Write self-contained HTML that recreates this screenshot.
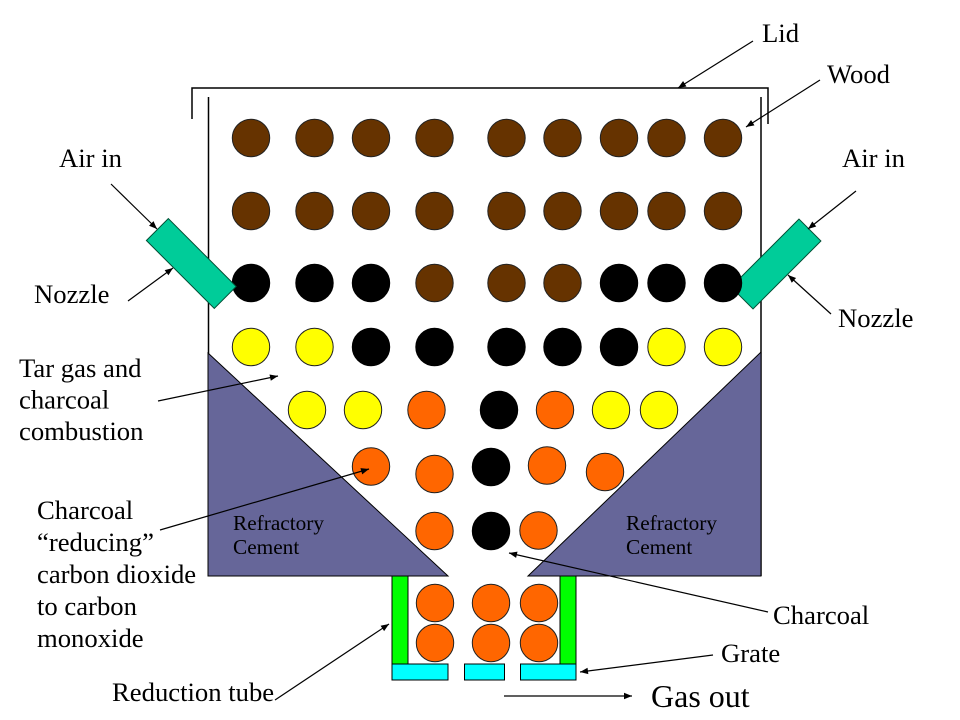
<!DOCTYPE html>
<html><head><meta charset="utf-8">
<style>
html,body{margin:0;padding:0;background:#fff;}
svg{display:block;}
text{font-family:"Liberation Serif","Times New Roman",serif;fill:#000;}
.l{font-size:26.67px;}
.r{font-size:21.3px;}
</style></head>
<body>
<svg width="960" height="720" viewBox="0 0 960 720" xmlns="http://www.w3.org/2000/svg">
<defs>
<marker id="a" viewBox="0 0 10 10" refX="10" refY="5" markerWidth="10" markerHeight="8" markerUnits="userSpaceOnUse" orient="auto">
<path d="M0,1 L10,5 L0,9 Z" fill="#000"/>
</marker>
</defs>
<rect width="960" height="720" fill="#fff"/>

<!-- lid -->
<polyline points="192,119 192,88 768,88 768,124" fill="none" stroke="#000" stroke-width="1.5"/>
<!-- walls -->
<line x1="208.5" y1="97" x2="208.5" y2="576" stroke="#000" stroke-width="1.5"/>
<line x1="761" y1="97" x2="761" y2="576" stroke="#000" stroke-width="1.5"/>

<!-- refractory -->
<polygon points="208,353 448,576 208,576" fill="#666699" stroke="#000" stroke-width="1"/>
<polygon points="761,352 761,576 528,576" fill="#666699" stroke="#000" stroke-width="1"/>
<text class="r" x="233" y="530">Refractory</text>
<text class="r" x="233" y="554">Cement</text>
<text class="r" x="626" y="530">Refractory</text>
<text class="r" x="626" y="554">Cement</text>

<!-- right nozzle (behind circles) -->
<rect x="-48" y="-15.5" width="96" height="31" fill="#00CC99" stroke="#004d33" stroke-width="1" transform="translate(776,264) rotate(-45)"/>

<g stroke="#222" stroke-width="1">
<!-- row 1 -->
<g fill="#663300">
<circle cx="251" cy="138" r="18.7"/><circle cx="314.5" cy="138" r="18.7"/><circle cx="371" cy="138" r="18.7"/><circle cx="434.5" cy="138" r="18.7"/><circle cx="506.5" cy="138" r="18.7"/><circle cx="562.5" cy="138" r="18.7"/><circle cx="619" cy="138" r="18.7"/><circle cx="666.5" cy="138" r="18.7"/><circle cx="723" cy="138" r="18.7"/>
<!-- row 2 -->
<circle cx="251" cy="211" r="18.7"/><circle cx="314.5" cy="211" r="18.7"/><circle cx="371" cy="211" r="18.7"/><circle cx="434.5" cy="211" r="18.7"/><circle cx="506.5" cy="211" r="18.7"/><circle cx="562.5" cy="211" r="18.7"/><circle cx="619" cy="211" r="18.7"/><circle cx="666.5" cy="211" r="18.7"/><circle cx="723" cy="211" r="18.7"/>
<!-- row 3 browns -->
<circle cx="434.5" cy="283" r="18.7"/><circle cx="506.5" cy="283" r="18.7"/><circle cx="562.5" cy="283" r="18.7"/>
</g>
<g fill="#000" stroke="#000">
<circle cx="251" cy="283" r="18.7"/><circle cx="314.5" cy="283" r="18.7"/><circle cx="371" cy="283" r="18.7"/><circle cx="619" cy="283" r="18.7"/><circle cx="666.5" cy="283" r="18.7"/><circle cx="723" cy="283" r="18.7"/>
<!-- row 4 blacks -->
<circle cx="371" cy="347" r="18.7"/><circle cx="434.5" cy="347" r="18.7"/><circle cx="506.5" cy="347" r="18.7"/><circle cx="562.5" cy="347" r="18.7"/><circle cx="619" cy="347" r="18.7"/>
<!-- row 5 -->
<circle cx="499" cy="410" r="18.7"/>
<!-- row 6 -->
<circle cx="491" cy="467" r="18.7"/>
<!-- row 7 -->
<circle cx="491" cy="531" r="18.7"/>
</g>
<g fill="#FFFF00">
<circle cx="251" cy="347" r="18.7"/><circle cx="314.5" cy="347" r="18.7"/><circle cx="666.5" cy="347" r="18.7"/><circle cx="723" cy="347" r="18.7"/>
<circle cx="307" cy="410" r="18.7"/><circle cx="363" cy="410" r="18.7"/><circle cx="611" cy="410" r="18.7"/><circle cx="659" cy="410" r="18.7"/>
</g>
<g fill="#FF6600">
<circle cx="426.5" cy="410" r="18.7"/><circle cx="555" cy="410" r="18.7"/>
<circle cx="371" cy="466.5" r="18.7"/><circle cx="434.5" cy="474" r="18.7"/><circle cx="547" cy="465.5" r="18.7"/><circle cx="605" cy="472" r="18.7"/>
<circle cx="434.5" cy="531" r="18.7"/><circle cx="538.5" cy="530.5" r="18.7"/>
<circle cx="435" cy="603" r="18.7"/><circle cx="491" cy="603" r="18.7"/><circle cx="539" cy="603" r="18.7"/>
<circle cx="435" cy="643" r="18.7"/><circle cx="491" cy="643" r="18.7"/><circle cx="539" cy="643" r="18.7"/>
</g>
</g>

<!-- left nozzle (over circle) -->
<rect x="-48" y="-15.5" width="96" height="31" fill="#00CC99" stroke="#004d33" stroke-width="1" transform="translate(191.3,263.5) rotate(45)"/>

<!-- reduction tube -->
<rect x="392" y="576" width="16" height="88" fill="#00FF00" stroke="#000" stroke-width="1"/>
<rect x="560" y="576" width="16" height="88" fill="#00FF00" stroke="#000" stroke-width="1"/>
<!-- grate -->
<rect x="392" y="664" width="56" height="16" fill="#00FFFF" stroke="#000" stroke-width="1"/>
<rect x="464.5" y="664" width="40" height="16" fill="#00FFFF" stroke="#000" stroke-width="1"/>
<rect x="520.5" y="664" width="55.5" height="16" fill="#00FFFF" stroke="#000" stroke-width="1"/>

<!-- arrows -->
<g stroke="#000" stroke-width="1.2" fill="none" marker-end="url(#a)">
<line x1="753" y1="41" x2="678" y2="88"/>
<line x1="820" y1="80" x2="746" y2="127"/>
<line x1="111" y1="184" x2="157" y2="229"/>
<line x1="128" y1="301" x2="173" y2="268"/>
<line x1="856" y1="191" x2="808" y2="229"/>
<line x1="831" y1="314" x2="788" y2="275"/>
<line x1="158" y1="401" x2="278" y2="376"/>
<line x1="160" y1="530" x2="369" y2="469"/>
<line x1="275" y1="700" x2="389" y2="624"/>
<line x1="768" y1="612" x2="509" y2="553"/>
<line x1="713" y1="655" x2="580" y2="672"/>
<line x1="504" y1="696" x2="632" y2="696"/>
</g>

<!-- labels -->
<text class="l" x="762" y="42">Lid</text>
<text class="l" x="827" y="83">Wood</text>
<text class="l" x="59" y="167">Air in</text>
<text class="l" x="842" y="167">Air in</text>
<text class="l" x="34" y="303">Nozzle</text>
<text class="l" x="838" y="327">Nozzle</text>
<text class="l" x="19" y="377">Tar gas and</text>
<text class="l" x="19" y="408.5">charcoal</text>
<text class="l" x="19" y="440">combustion</text>
<text class="l" x="37" y="519">Charcoal</text>
<text class="l" x="37" y="551">“reducing”</text>
<text class="l" x="37" y="583">carbon dioxide</text>
<text class="l" x="37" y="615">to carbon</text>
<text class="l" x="37" y="647">monoxide</text>
<text class="l" x="112" y="701">Reduction tube</text>
<text class="l" x="773" y="624">Charcoal</text>
<text class="l" x="721" y="662">Grate</text>
<text x="651" y="707" style="font-size:32px">Gas out</text>
</svg>
</body></html>
